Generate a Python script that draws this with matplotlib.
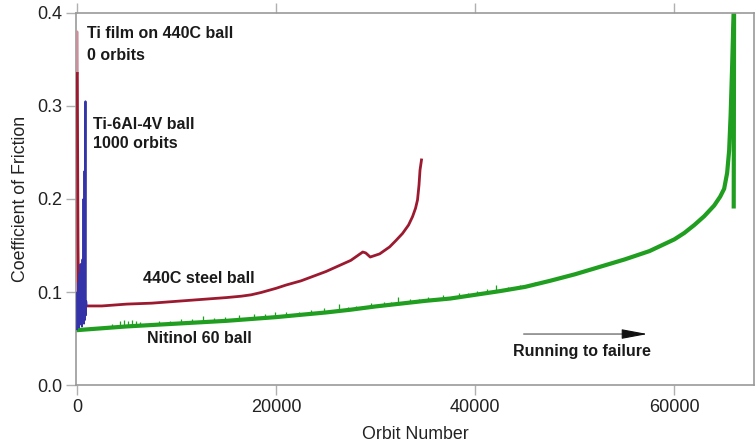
import matplotlib
matplotlib.use("Agg")
import matplotlib.pyplot as plt
import numpy as np

plt.rcParams['font.family'] = ['Liberation Sans', 'DejaVu Sans']

# Ti film on 440C ball (fails at ~0 orbits)
film_orbit = [0, 15, 30]
film_cof = [0.086, 0.38, 0.335]

# 440C steel ball
steel_orbit = [30, 60, 100, 150, 400, 1000, 2500, 5000, 7500, 10000, 12500, 15000,
               16500, 17500, 18500, 20000, 21000, 22500, 25000, 27500, 28700, 29000,
               29450, 30400, 31400, 32000, 32700, 33300, 33700, 34000, 34200, 34350,
               34450, 34600]
steel_cof = [0.335, 0.25, 0.15, 0.09, 0.086, 0.085, 0.085, 0.087, 0.088, 0.090,
             0.092, 0.094, 0.0955, 0.097, 0.0995, 0.104, 0.1075, 0.112, 0.122,
             0.134, 0.143, 0.142, 0.1376, 0.141, 0.1485, 0.155, 0.163, 0.172,
             0.181, 0.19, 0.199, 0.215, 0.231, 0.242]

# Ti-6Al-4V ball (fails at ~1000 orbits)
ti_orbit = [0, 50, 100, 150, 200, 250, 300, 350, 400, 450, 500, 550, 600, 650,
            700, 750, 800, 850, 880, 920, 950]
ti_cof = [0.06, 0.10, 0.063, 0.11, 0.062, 0.12, 0.065, 0.13, 0.066, 0.105, 0.063,
          0.135, 0.068, 0.20, 0.066, 0.23, 0.07, 0.305, 0.075, 0.09, 0.086]

# Nitinol 60 ball
niti_orbit = [0, 2500, 5000, 7500, 10000, 12500, 15000, 17500, 20000, 22500, 25000,
              27500, 30000, 32500, 35000, 37500, 40000, 42500, 45000, 47500, 50000,
              52500, 55000, 57500, 60000, 61000, 62000, 63000, 64000, 64600, 65000,
              65300, 65500, 65650, 65800, 66000, 65960]
niti_cof = [0.059, 0.061, 0.063, 0.0645, 0.066, 0.0675, 0.069, 0.071, 0.073, 0.0755,
            0.078, 0.081, 0.0845, 0.0875, 0.0905, 0.093, 0.097, 0.101, 0.1055,
            0.112, 0.119, 0.127, 0.135, 0.144, 0.1566, 0.1635, 0.172, 0.1815,
            0.193, 0.2025, 0.211, 0.228, 0.252, 0.29, 0.342, 0.42, 0.192]

# noise spikes on the Nitinol trace (orbit, spike top)
fuzz_orbit = [3500, 4300, 4700, 5100, 5500, 5900, 6300, 8200, 9300, 10400, 11500,
              12700, 13800, 14900, 16300, 17800, 18900, 19900, 21000, 22300, 23500,
              24800, 26300, 27200, 28000, 29500, 30800, 31500, 32200, 33400, 34300,
              35300, 36800, 38400, 39300, 40200, 41200, 42100, 43300, 44500, 46000]
fuzz_top = [0.066, 0.069, 0.070, 0.069, 0.070, 0.069, 0.068, 0.069, 0.069, 0.071,
            0.071, 0.074, 0.072, 0.073, 0.075, 0.076, 0.076, 0.079, 0.078, 0.079,
            0.081, 0.083, 0.087, 0.084, 0.085, 0.088, 0.089, 0.089, 0.095, 0.092,
            0.093, 0.095, 0.097, 0.099, 0.099, 0.101, 0.103, 0.107, 0.105, 0.108,
            0.111]

x_ticks = [0, 20000, 40000, 60000]
y_ticks = [0.0, 0.1, 0.2, 0.3, 0.4]

red = "#9c1a30"
blue = "#3434a8"
green = "#1f9e1f"

fig = plt.figure(figsize=(7.55, 4.43), dpi=100)
ax = fig.add_axes([0.1007, 0.1309, 0.898, 0.8398])

fuzz_base = np.interp(fuzz_orbit, niti_orbit[:-1], niti_cof[:-1])
ax.vlines(fuzz_orbit, fuzz_base, fuzz_top, color=green, lw=0.9, zorder=2)
ax.plot(niti_orbit, niti_cof, color=green, lw=3.0, zorder=2)
ax.plot(film_orbit, film_cof, color="#c7929b", lw=1.6, zorder=3)
ax.plot(steel_orbit, steel_cof, color=red, lw=2.0, zorder=3)
ax.plot(ti_orbit, ti_cof, color=blue, lw=1.4, zorder=4)

ax.set_xlim(-100, 68000)
ax.set_ylim(0, 0.4)
ax.set_xticks(x_ticks)
ax.set_yticks(y_ticks)
ax.set_yticklabels(["%.1f" % v for v in y_ticks])

for s in ax.spines.values():
    s.set_color("#9a9a9a")
    s.set_linewidth(1.2)
ax.tick_params(direction="out", length=7, width=1, color="#b0b0b0",
               labelsize=13, labelcolor="#222222", top=True, pad=3)

ax.set_xlabel("Orbit Number", fontsize=12.8, color="#222222", labelpad=7)
ax.set_ylabel("Coefficient of Friction", fontsize=12.8, color="#222222", labelpad=6)

kw = dict(fontsize=11.5, fontweight="bold", color="#1a1a1a", va="center")
ax.text(1000, 0.378, "Ti film on 440C ball", **kw)
ax.text(1000, 0.354, "0 orbits", **kw)
ax.text(1600, 0.2796, "Ti-6Al-4V ball", **kw)
ax.text(1600, 0.260, "1000 orbits", **kw)
ax.text(6630, 0.115, "440C steel ball", **kw)
ax.text(7035, 0.0495, "Nitinol 60 ball", **kw)
ax.text(43800, 0.0355, "Running to failure", **kw)

# arrow: grey shaft, black head
ax.annotate("", xy=(55000, 0.0548), xytext=(44600, 0.0548),
            arrowprops=dict(arrowstyle="-", color="#888888", lw=1.2))
ax.annotate("", xy=(57300, 0.0548), xytext=(54800, 0.0548),
            arrowprops=dict(arrowstyle="-|>,head_length=1.6,head_width=0.3",
                            color="#111111", lw=0.8, shrinkA=0, shrinkB=0))

fig.savefig("out.png", dpi=100)
